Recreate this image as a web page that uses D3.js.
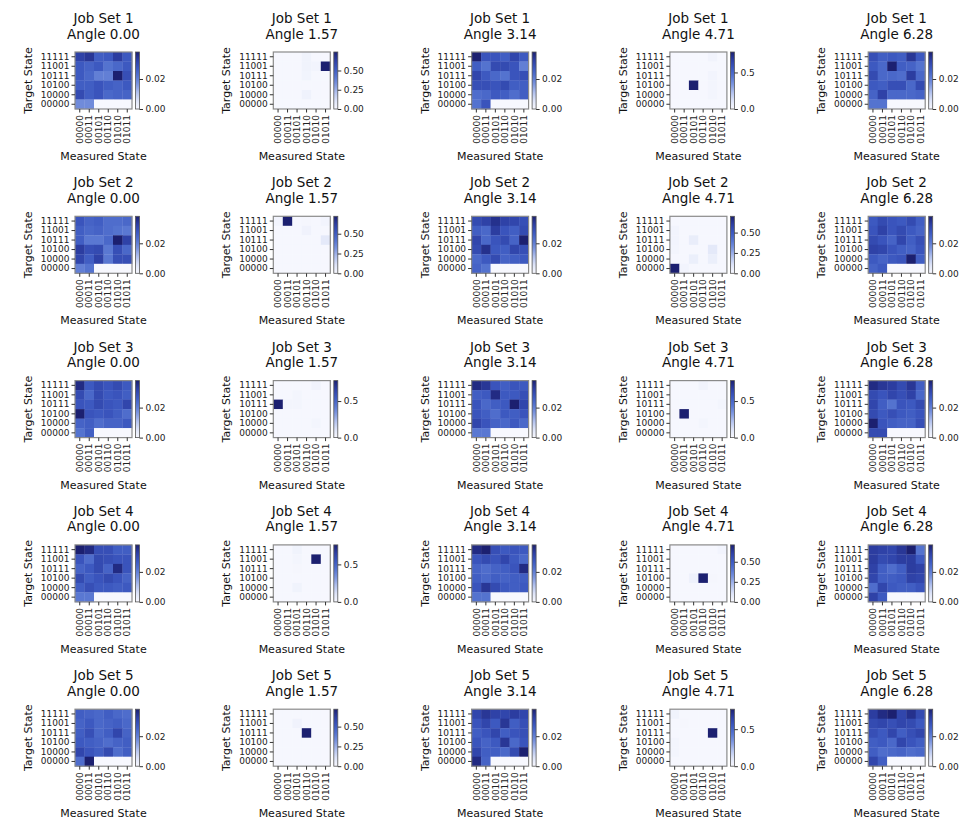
<!DOCTYPE html>
<html>
<head>
<meta charset="utf-8">
<script src="https://cdn.jsdelivr.net/npm/d3@7"></script>
<style>
  html, body { margin: 0; padding: 0; background: #ffffff; }
  svg { display: block; font-family: "DejaVu Sans", sans-serif; }
</style>
</head>
<body>
<svg id="chart" width="973" height="821"></svg>
<script>
// ---------------- data ----------------
const jobSets = [1, 2, 3, 4, 5];
const angles = ["0.00", "1.57", "3.14", "4.71", "6.28"];
const targetStates = ["11111", "11001", "10111", "10100", "10000", "00000"];
const measuredStates = ["00000", "00011", "00101", "00110", "01010", "01011"];

// colorbar tick sets
const ticksSmall = [0, 0.02];
const ticksHalf = [0, 0.5];
const ticksQuarter = [0, 0.25, 0.5];

// Job Set 1
const js1_a000 = [
  [0.032, 0.034, 0.026, 0.027, 0.033, 0.027],
  [0.027, 0.025, 0.027, 0.022, 0.024, 0.027],
  [0.027, 0.024, 0.020, 0.020, 0.038, 0.029],
  [0.026, 0.026, 0.028, 0.026, 0.025, 0.027],
  [0.030, 0.026, 0.028, 0.024, 0.025, 0.025],
  [0.018, 0.018, 0, 0, 0, 0]];
const js1_a157 = [
  [0.004, 0.004, 0.004, 0.030, 0.004, 0.004],
  [0.004, 0.004, 0.004, 0.030, 0.020, 0.740],
  [0.004, 0.004, 0.004, 0.025, 0.004, 0.004],
  [0.004, 0.004, 0.004, 0.004, 0.004, 0.004],
  [0.004, 0.004, 0.004, 0.035, 0.004, 0.004],
  [0.004, 0.004, 0.004, 0.004, 0.004, 0.004]];
const js1_a314 = [
  [0.038, 0.028, 0.028, 0.026, 0.031, 0.027],
  [0.026, 0.022, 0.030, 0.030, 0.028, 0.020],
  [0.031, 0.027, 0.024, 0.022, 0.028, 0.029],
  [0.029, 0.029, 0.028, 0.030, 0.026, 0.026],
  [0.023, 0.024, 0.027, 0.026, 0.023, 0.026],
  [0.022, 0.028, 0, 0, 0, 0]];
const js1_a471 = [
  [0.004, 0.004, 0.004, 0.004, 0.030, 0.004],
  [0.004, 0.004, 0.004, 0.004, 0.004, 0.004],
  [0.004, 0.004, 0.004, 0.004, 0.025, 0.004],
  [0.004, 0.004, 0.780, 0.004, 0.020, 0.004],
  [0.004, 0.004, 0.004, 0.004, 0.020, 0.004],
  [0.004, 0.004, 0.004, 0.004, 0.004, 0.004]];
const js1_a628 = [
  [0.029, 0.026, 0.027, 0.026, 0.034, 0.027],
  [0.027, 0.024, 0.038, 0.026, 0.025, 0.022],
  [0.030, 0.024, 0.024, 0.023, 0.033, 0.024],
  [0.027, 0.026, 0.029, 0.029, 0.024, 0.030],
  [0.025, 0.032, 0.024, 0.024, 0.024, 0.025],
  [0.022, 0.022, 0, 0, 0, 0]];

// Job Set 2
const js2_a000 = [
  [0.028, 0.025, 0.026, 0.023, 0.023, 0.024],
  [0.026, 0.024, 0.025, 0.023, 0.022, 0.021],
  [0.026, 0.021, 0.021, 0.024, 0.038, 0.032],
  [0.033, 0.029, 0.030, 0.021, 0.029, 0.024],
  [0.031, 0.026, 0.032, 0.021, 0.029, 0.029],
  [0.020, 0.022, 0, 0, 0, 0]];
const js2_a157 = [
  [0.020, 0.720, 0.004, 0.010, 0.004, 0.020],
  [0.004, 0.004, 0.004, 0.030, 0.004, 0.004],
  [0.004, 0.004, 0.004, 0.004, 0.004, 0.080],
  [0.004, 0.004, 0.004, 0.004, 0.004, 0.004],
  [0.004, 0.004, 0.004, 0.004, 0.004, 0.004],
  [0.004, 0.004, 0.004, 0.004, 0.004, 0.004]];
const js2_a314 = [
  [0.030, 0.032, 0.035, 0.032, 0.031, 0.029],
  [0.026, 0.024, 0.033, 0.028, 0.026, 0.030],
  [0.031, 0.024, 0.028, 0.030, 0.025, 0.038],
  [0.030, 0.035, 0.027, 0.026, 0.031, 0.029],
  [0.024, 0.027, 0.030, 0.025, 0.026, 0.027],
  [0.025, 0.022, 0, 0, 0, 0]];
const js2_a471 = [
  [0.004, 0.004, 0.004, 0.004, 0.004, 0.004],
  [0.020, 0.004, 0.004, 0.004, 0.004, 0.004],
  [0.020, 0.004, 0.060, 0.004, 0.004, 0.004],
  [0.015, 0.004, 0.004, 0.004, 0.080, 0.004],
  [0.004, 0.004, 0.050, 0.004, 0.050, 0.004],
  [0.700, 0.020, 0.004, 0.004, 0.004, 0.004]];
const js2_a628 = [
  [0.027, 0.030, 0.028, 0.027, 0.030, 0.026],
  [0.028, 0.032, 0.028, 0.030, 0.027, 0.025],
  [0.030, 0.028, 0.025, 0.031, 0.026, 0.029],
  [0.032, 0.031, 0.028, 0.026, 0.025, 0.028],
  [0.027, 0.025, 0.027, 0.028, 0.038, 0.026],
  [0.025, 0.027, 0, 0, 0, 0]];

// Job Set 3
const js3_a000 = [
  [0.036, 0.027, 0.030, 0.028, 0.030, 0.027],
  [0.030, 0.024, 0.030, 0.027, 0.028, 0.026],
  [0.028, 0.027, 0.030, 0.028, 0.027, 0.031],
  [0.038, 0.028, 0.027, 0.028, 0.026, 0.023],
  [0.025, 0.026, 0.023, 0.025, 0.025, 0.027],
  [0.022, 0.026, 0, 0, 0, 0]];
const js3_a157 = [
  [0.004, 0.004, 0.004, 0.004, 0.030, 0.004],
  [0.004, 0.004, 0.020, 0.004, 0.004, 0.004],
  [0.780, 0.020, 0.020, 0.004, 0.004, 0.004],
  [0.004, 0.004, 0.004, 0.004, 0.004, 0.004],
  [0.004, 0.004, 0.004, 0.004, 0.020, 0.004],
  [0.004, 0.004, 0.004, 0.004, 0.004, 0.004]];
const js3_a314 = [
  [0.036, 0.034, 0.028, 0.026, 0.028, 0.027],
  [0.026, 0.027, 0.036, 0.027, 0.027, 0.029],
  [0.028, 0.024, 0.026, 0.027, 0.038, 0.031],
  [0.028, 0.026, 0.023, 0.027, 0.026, 0.028],
  [0.031, 0.028, 0.025, 0.024, 0.027, 0.024],
  [0.021, 0.021, 0, 0, 0, 0]];
const js3_a471 = [
  [0.004, 0.004, 0.004, 0.030, 0.004, 0.004],
  [0.004, 0.004, 0.004, 0.004, 0.004, 0.004],
  [0.004, 0.004, 0.004, 0.004, 0.004, 0.020],
  [0.010, 0.780, 0.004, 0.004, 0.004, 0.004],
  [0.004, 0.004, 0.004, 0.020, 0.004, 0.004],
  [0.004, 0.004, 0.004, 0.004, 0.004, 0.004]];
const js3_a628 = [
  [0.036, 0.034, 0.033, 0.030, 0.034, 0.026],
  [0.030, 0.028, 0.031, 0.029, 0.032, 0.024],
  [0.031, 0.026, 0.022, 0.028, 0.027, 0.030],
  [0.030, 0.027, 0.029, 0.027, 0.026, 0.028],
  [0.038, 0.028, 0.026, 0.025, 0.025, 0.029],
  [0.030, 0.030, 0, 0, 0, 0]];

// Job Set 4
const js4_a000 = [
  [0.038, 0.036, 0.029, 0.029, 0.026, 0.026],
  [0.028, 0.023, 0.030, 0.029, 0.028, 0.028],
  [0.025, 0.027, 0.030, 0.025, 0.036, 0.028],
  [0.030, 0.026, 0.028, 0.030, 0.028, 0.025],
  [0.026, 0.029, 0.027, 0.027, 0.026, 0.027],
  [0.021, 0.021, 0, 0, 0, 0]];
const js4_a157 = [
  [0.004, 0.004, 0.030, 0.004, 0.004, 0.004],
  [0.004, 0.004, 0.020, 0.004, 0.760, 0.004],
  [0.004, 0.004, 0.010, 0.004, 0.004, 0.004],
  [0.004, 0.004, 0.004, 0.004, 0.004, 0.004],
  [0.004, 0.004, 0.030, 0.004, 0.004, 0.004],
  [0.004, 0.004, 0.004, 0.004, 0.004, 0.004]];
const js4_a314 = [
  [0.036, 0.038, 0.029, 0.027, 0.028, 0.027],
  [0.028, 0.030, 0.028, 0.031, 0.027, 0.024],
  [0.025, 0.023, 0.025, 0.026, 0.028, 0.036],
  [0.026, 0.024, 0.026, 0.025, 0.026, 0.026],
  [0.028, 0.034, 0.030, 0.027, 0.026, 0.027],
  [0.022, 0.022, 0, 0, 0, 0]];
const js4_a471 = [
  [0.004, 0.004, 0.004, 0.004, 0.004, 0.020],
  [0.004, 0.004, 0.004, 0.004, 0.004, 0.004],
  [0.004, 0.004, 0.004, 0.004, 0.004, 0.004],
  [0.004, 0.004, 0.040, 0.710, 0.010, 0.004],
  [0.004, 0.004, 0.004, 0.004, 0.004, 0.004],
  [0.004, 0.004, 0.004, 0.004, 0.004, 0.004]];
const js4_a628 = [
  [0.033, 0.032, 0.031, 0.034, 0.038, 0.022],
  [0.033, 0.030, 0.031, 0.033, 0.033, 0.027],
  [0.032, 0.026, 0.023, 0.026, 0.033, 0.032],
  [0.031, 0.026, 0.026, 0.027, 0.032, 0.031],
  [0.023, 0.031, 0.027, 0.026, 0.026, 0.028],
  [0.032, 0.027, 0, 0, 0, 0]];

// Job Set 5
const js5_a000 = [
  [0.026, 0.025, 0.024, 0.026, 0.024, 0.023],
  [0.025, 0.027, 0.024, 0.025, 0.026, 0.024],
  [0.026, 0.029, 0.024, 0.026, 0.031, 0.025],
  [0.027, 0.026, 0.025, 0.023, 0.025, 0.026],
  [0.031, 0.028, 0.026, 0.030, 0.023, 0.026],
  [0.023, 0.038, 0, 0, 0, 0]];
const js5_a157 = [
  [0.004, 0.004, 0.004, 0.004, 0.004, 0.004],
  [0.004, 0.004, 0.030, 0.004, 0.004, 0.004],
  [0.004, 0.004, 0.004, 0.720, 0.004, 0.004],
  [0.004, 0.004, 0.004, 0.004, 0.004, 0.004],
  [0.004, 0.004, 0.004, 0.004, 0.004, 0.004],
  [0.004, 0.004, 0.004, 0.004, 0.004, 0.004]];
const js5_a314 = [
  [0.031, 0.034, 0.032, 0.031, 0.033, 0.031],
  [0.028, 0.031, 0.027, 0.034, 0.026, 0.029],
  [0.026, 0.028, 0.031, 0.026, 0.028, 0.029],
  [0.028, 0.025, 0.027, 0.034, 0.024, 0.028],
  [0.031, 0.026, 0.026, 0.024, 0.030, 0.038],
  [0.036, 0.025, 0, 0, 0, 0]];
const js5_a471 = [
  [0.030, 0.004, 0.004, 0.004, 0.004, 0.004],
  [0.004, 0.010, 0.004, 0.004, 0.004, 0.004],
  [0.004, 0.004, 0.004, 0.004, 0.770, 0.004],
  [0.020, 0.004, 0.004, 0.004, 0.004, 0.004],
  [0.020, 0.004, 0.004, 0.004, 0.004, 0.004],
  [0.004, 0.004, 0.004, 0.004, 0.004, 0.004]];
const js5_a628 = [
  [0.033, 0.036, 0.038, 0.031, 0.035, 0.030],
  [0.030, 0.031, 0.029, 0.031, 0.030, 0.027],
  [0.029, 0.027, 0.031, 0.026, 0.029, 0.031],
  [0.026, 0.027, 0.024, 0.031, 0.028, 0.026],
  [0.026, 0.023, 0.024, 0.025, 0.023, 0.024],
  [0.031, 0.026, 0, 0, 0, 0]];

const panelValues = [
  [js1_a000, js1_a157, js1_a314, js1_a471, js1_a628],
  [js2_a000, js2_a157, js2_a314, js2_a471, js2_a628],
  [js3_a000, js3_a157, js3_a314, js3_a471, js3_a628],
  [js4_a000, js4_a157, js4_a314, js4_a471, js4_a628],
  [js5_a000, js5_a157, js5_a314, js5_a471, js5_a628]];

const panelTicks = [
  [ticksSmall, ticksQuarter, ticksSmall, ticksHalf, ticksSmall],
  [ticksSmall, ticksQuarter, ticksSmall, ticksQuarter, ticksSmall],
  [ticksSmall, ticksHalf, ticksSmall, ticksHalf, ticksSmall],
  [ticksSmall, ticksHalf, ticksSmall, ticksQuarter, ticksSmall],
  [ticksSmall, ticksQuarter, ticksSmall, ticksHalf, ticksSmall]];

// ---------------- style / layout ----------------
const cmapColors = ["#f7f8fe", "#dfe5f8", "#b3c2ee", "#7d96df", "#5574d0", "#3c58c0", "#2d3fa4", "#1c2070"];
const cmap = d3.scaleLinear()
  .domain(cmapColors.map((c, i) => i / (cmapColors.length - 1)))
  .range(cmapColors)
  .interpolate(d3.interpolateRgb)
  .clamp(true);

const colX0 = 75, colStep = 198.3;
const rowY0 = 52, rowStep = 164.3;
const hm = 57;
const cbGap = 3.5, cbW = 4;

const svg = d3.select("#chart");

// shared gradient
const defs = svg.append("defs");
const grad = defs.append("linearGradient").attr("id", "cbgrad")
  .attr("x1", 0).attr("y1", 1).attr("x2", 0).attr("y2", 0);
d3.range(0, 1.0001, 0.05).forEach(t => {
  grad.append("stop").attr("offset", t).attr("stop-color", cmap(t));
});

const xBand = d3.scaleBand().domain(measuredStates).range([0, hm]);
const yBand = d3.scaleBand().domain(targetStates).range([0, hm]);

jobSets.forEach((js, r) => {
  angles.forEach((ang, c) => {
    const vals = panelValues[r][c];
    const vmax = d3.max(vals.flat());
    const color = d3.scaleLinear().domain([0, vmax]).range([0, 1]);
    const left = colX0 + c * colStep;
    const top = rowY0 + r * rowStep;
    const g = svg.append("g").attr("transform", `translate(${left},${top})`);

    // cells
    const cells = [];
    vals.forEach((row, i) => row.forEach((v, j) => cells.push({ t: targetStates[i], m: measuredStates[j], v })));
    g.selectAll("rect.cell").data(cells).enter().append("rect")
      .attr("class", "cell")
      .attr("x", d => xBand(d.m))
      .attr("y", d => yBand(d.t))
      .attr("width", xBand.bandwidth() + 0.3)
      .attr("height", yBand.bandwidth() + 0.3)
      .attr("fill", d => cmap(color(d.v)));

    // frame
    g.append("rect").attr("x", 0).attr("y", 0).attr("width", hm).attr("height", hm)
      .attr("fill", "none").attr("stroke", "#8a8a8a").attr("stroke-width", 1.2);

    // y axis
    const ya = g.append("g").call(d3.axisLeft(yBand).tickSize(3.5).tickPadding(2));
    ya.select(".domain").remove();
    ya.selectAll("line").attr("stroke", "#333").attr("stroke-width", 1);
    ya.selectAll("text").attr("font-size", "9px").attr("font-family", "DejaVu Sans").attr("fill", "#222");

    // x axis
    const xa = g.append("g").attr("transform", `translate(0,${hm})`)
      .call(d3.axisBottom(xBand).tickSize(3.5).tickPadding(2));
    xa.select(".domain").remove();
    xa.selectAll("line").attr("stroke", "#333").attr("stroke-width", 1);
    xa.selectAll("text")
      .attr("font-size", "9px").attr("font-family", "DejaVu Sans").attr("fill", "#222")
      .attr("transform", "rotate(-90)")
      .attr("x", -6).attr("y", 0).attr("dy", "0.35em")
      .attr("text-anchor", "end");

    // colorbar
    const cbx = hm + cbGap;
    const cbScale = d3.scaleLinear().domain([0, vmax]).range([hm, 0]);
    const cb = g.append("g").attr("transform", `translate(${cbx},0)`);
    cb.append("rect").attr("x", 0).attr("y", 0).attr("width", cbW).attr("height", hm)
      .attr("fill", "url(#cbgrad)");
    cb.append("rect").attr("x", 0).attr("y", 0).attr("width", cbW).attr("height", hm)
      .attr("fill", "none").attr("stroke", "#555").attr("stroke-width", 0.8);
    const tv = panelTicks[r][c];
    const fmt = tv.includes(0.25) || tv.includes(0.02) ? d3.format(".2f") : d3.format(".1f");
    const cba = cb.append("g").attr("transform", `translate(${cbW},0)`)
      .call(d3.axisRight(cbScale).tickValues(tv).tickFormat(fmt).tickSize(3.5).tickPadding(2.5));
    cba.select(".domain").remove();
    cba.selectAll("line").attr("stroke", "#333").attr("stroke-width", 1);
    cba.selectAll("text").attr("font-size", "9px").attr("font-family", "DejaVu Sans").attr("fill", "#222");

    // titles
    g.append("text").attr("x", hm / 2).attr("y", -29).attr("text-anchor", "middle")
      .attr("font-size", "13.5px").attr("fill", "#111").text(`Job Set ${js}`);
    g.append("text").attr("x", hm / 2).attr("y", -13.5).attr("text-anchor", "middle")
      .attr("font-size", "13.5px").attr("fill", "#111").text(`Angle ${ang}`);

    // axis labels
    g.append("text").attr("transform", `translate(-43,${hm / 2}) rotate(-90)`)
      .attr("text-anchor", "middle").attr("font-size", "11px").attr("fill", "#111")
      .text("Target State");
    g.append("text").attr("x", hm / 2).attr("y", 108).attr("text-anchor", "middle")
      .attr("font-size", "11px").attr("fill", "#111").text("Measured State");
  });
});
</script>
</body>
</html>
